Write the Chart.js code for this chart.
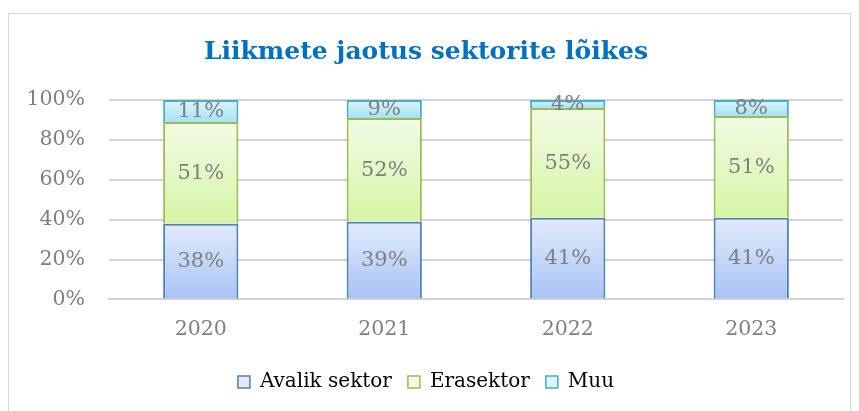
<!DOCTYPE html>
<html>
<head>
<meta charset="utf-8">
<script src="https://cdn.jsdelivr.net/npm/chart.js@4/dist/chart.umd.min.js"></script>
<style>
  body { margin: 0; background: #fff; }
  #frame {
    position: absolute; left: 8px; top: 13px;
    width: 843px; height: 400px;
    border: 1px solid #d9d9d9; box-sizing: border-box;
  }
  canvas { display: block; }
</style>
</head>
<body>
<div id="frame"><canvas id="myChart" width="841" height="398"></canvas></div>
<script>
const years = ["2020", "2021", "2022", "2023"];
const avalik = [38, 39, 41, 41];
const erasektor = [51, 52, 55, 51];
const muu = [11, 9, 4, 8];
const yTicks = [0, 20, 40, 60, 80, 100];

const grey = "#7f7f7f";
const serif = "'DejaVu Serif', serif";

// top colour, bottom colour, border
const palettes = [
  ["#e2ebfc", "#a8c3f5", "#4f81bd"],
  ["#f2fbe4", "#d6f5a6", "#9bbb59"],
  ["#dcf5fc", "#a6e2f3", "#4bacc6"],
];

const series = [avalik, erasektor, muu];

function barFill(ctx, dsIndex) {
  const chart = ctx.chart;
  const pal = palettes[dsIndex];
  if (!chart.chartArea || ctx.dataIndex === undefined) return pal[1];
  const y = chart.scales.y;
  let start = 0;
  for (let i = 0; i < dsIndex; i++) start += series[i][ctx.dataIndex];
  const end = start + series[dsIndex][ctx.dataIndex];
  const top = y.getPixelForValue(end);
  const bottom = y.getPixelForValue(start);
  const g = chart.ctx.createLinearGradient(0, top, 0, bottom);
  g.addColorStop(0, pal[0]);
  g.addColorStop(1, pal[1]);
  return g;
}

const valueLabels = {
  id: "valueLabels",
  afterDatasetsDraw(chart) {
    const ctx = chart.ctx;
    ctx.save();
    ctx.font = "21px " + serif;
    ctx.fillStyle = grey;
    ctx.textAlign = "center";
    ctx.textBaseline = "middle";
    chart.data.datasets.forEach((ds, i) => {
      chart.getDatasetMeta(i).data.forEach((bar, j) => {
        ctx.fillText(ds.data[j] + "%", bar.x, (bar.y + bar.base) / 2 + 1);
      });
    });
    ctx.restore();
  },
};

const names = ["Avalik sektor", "Erasektor", "Muu"];

new Chart(document.getElementById("myChart"), {
  type: "bar",
  data: {
    labels: years,
    datasets: series.map((data, i) => ({
      label: names[i],
      data: data,
      backgroundColor: (ctx) => barFill(ctx, i),
      borderColor: palettes[i][2],
      borderWidth: 2,
      barPercentage: 0.41,
      categoryPercentage: 1,
    })),
  },
  options: {
    responsive: false,
    animation: false,
    layout: { padding: { left: 0, right: 7, top: 0, bottom: 10 } },
    plugins: {
      title: {
        display: true,
        text: "Liikmete jaotus sektorite lõikes",
        color: "#0070c0",
        font: { family: serif, size: 25, weight: "bold" },
        padding: { top: 23, bottom: 33 },
      },
      legend: {
        position: "bottom",
        labels: {
          color: grey,
          font: { family: serif, size: 20 },
          boxWidth: 12,
          boxHeight: 12,
          padding: 16,
          generateLabels: (chart) =>
            names.map((n, i) => ({
              text: n,
              fillStyle: palettes[i][0],
              strokeStyle: palettes[i][2],
              lineWidth: 1.5,
              datasetIndex: i,
            })),
        },
      },
      tooltip: { enabled: false },
    },
    scales: {
      x: {
        stacked: true,
        grid: { display: false },
        border: { color: "#d4d4d4", width: 2 },
        afterFit: (scale) => { scale.height += 4; },
        ticks: { color: grey, font: { family: serif, size: 20.5 }, padding: 10 },
      },
      y: {
        stacked: true,
        min: 0,
        max: 100,
        afterFit: (scale) => { scale.width = 100; },
        afterBuildTicks: (scale) => { scale.ticks = yTicks.map((v) => ({ value: v })); },
        grid: { color: "#d4d4d4", lineWidth: 2, drawTicks: false },
        border: { display: false },
        ticks: {
          color: grey,
          font: { family: serif, size: 20.5 },
          padding: 24,
          callback: (v) => v + "%",
        },
      },
    },
  },
  plugins: [valueLabels],
});
</script>
</body>
</html>
